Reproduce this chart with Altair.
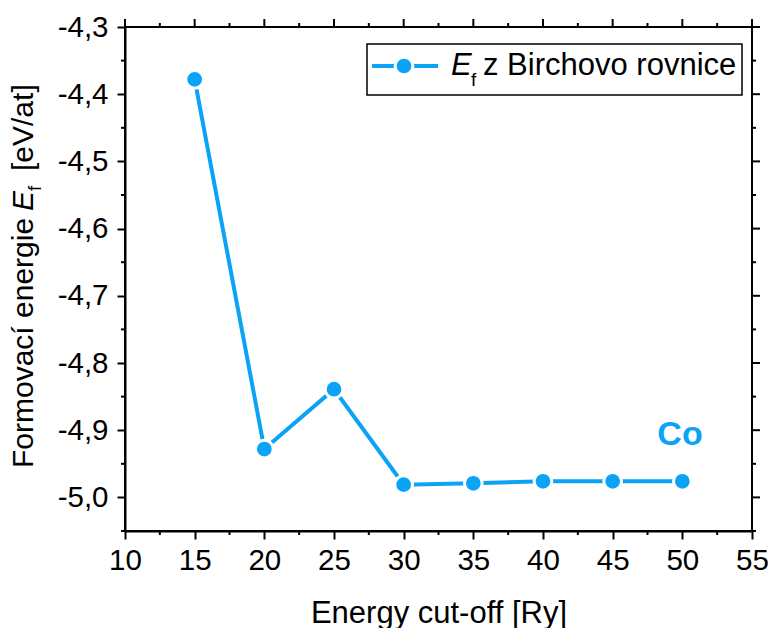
import altair as alt
import pandas as pd

# ---- data ----
cutoff = [15, 20, 25, 30, 35, 40, 45, 50]
energy = [-4.378, -4.928, -4.839, -4.981, -4.979, -4.976, -4.976, -4.976]

x_major = [10, 15, 20, 25, 30, 35, 40, 45, 50, 55]
x_minor = [12.5, 17.5, 22.5, 27.5, 32.5, 37.5, 42.5, 47.5, 52.5]
y_major = [-5.0, -4.9, -4.8, -4.7, -4.6, -4.5, -4.4, -4.3]
y_minor = [-5.05, -4.95, -4.85, -4.75, -4.65, -4.55, -4.45, -4.35]

COLOR = "#0AA3F5"
FONT = "Liberation Sans"
W, H = 627, 504
MAJ, MIN = 8, 4

df = pd.DataFrame({"x": cutoff, "y": energy})
one = pd.DataFrame({"a": [0]})

xscale = alt.Scale(domain=[10, 55], nice=False, zero=False)
yscale = alt.Scale(domain=[-5.05, -4.3], nice=False, zero=False)

xaxis = alt.Axis(values=x_major, tickSize=MAJ, tickWidth=2, tickColor="black",
                 domainWidth=2, domainColor="black", grid=False,
                 labelFontSize=29.5, labelFont=FONT, labelColor="black", labelPadding=7,
                 title="Energy cut-off [Ry]", titleFontSize=31, titleFont=FONT,
                 titleFontWeight="normal", titleColor="black",
                 titleY=91, titleBaseline="alphabetic", labelFlush=False)
yaxis = alt.Axis(values=y_major, tickSize=MAJ, tickWidth=2, tickColor="black",
                 domainWidth=2, domainColor="black", grid=False,
                 labelFontSize=29.5, labelFont=FONT, labelColor="black", labelPadding=9,
                 labelExpr="(datum.value < 0 ? '-' : '') + replace(format(abs(datum.value), '.1f'), '.', ',')",
                 title=None, labelFlush=False)

X = alt.X("x:Q", scale=xscale, axis=xaxis)
Y = alt.Y("y:Q", scale=yscale, axis=yaxis)

base = alt.Chart(df)
line = base.mark_line(color=COLOR, strokeWidth=4).encode(x=X, y=Y)
pts = base.mark_point(filled=True, fill=COLOR, stroke="white", strokeWidth=3,
                      size=314, opacity=1, shape="circle").encode(x=X, y=Y)

def xticks(vals, y0, y1):
    return alt.Chart(pd.DataFrame({"x": vals})).mark_rule(color="black", strokeWidth=2).encode(
        x=X, y=alt.value(y0), y2=alt.value(y1))

def yticks(vals, x0, x1):
    return alt.Chart(pd.DataFrame({"y": vals})).mark_rule(color="black", strokeWidth=2).encode(
        y=Y, x=alt.value(x0), x2=alt.value(x1))

ticks = [
    xticks(x_minor, H, H + MIN),
    xticks(x_major, 0, -MAJ),
    xticks(x_minor, 0, -MIN),
    yticks(y_minor, 0, -MIN),
    yticks(y_major, W, W + MAJ),
    yticks(y_minor, W, W + MIN),
]

# ---- y title (with italic E and subscript f) ----
ytx = -92
ytitle = [
    alt.Chart(one).mark_text(text="Formovací energie", angle=270, align="left", baseline="alphabetic",
                             fontSize=30, font=FONT, color="black").encode(x=alt.value(ytx), y=alt.value(441)),
    alt.Chart(one).mark_text(text="E", angle=270, align="left", baseline="alphabetic", fontStyle="italic",
                             fontSize=30, font=FONT, color="black").encode(x=alt.value(ytx), y=alt.value(184)),
    alt.Chart(one).mark_text(text="f", angle=270, align="left", baseline="alphabetic",
                             fontSize=19, font=FONT, color="black").encode(x=alt.value(ytx + 8), y=alt.value(164)),
    alt.Chart(one).mark_text(text="[eV/at]", angle=270, align="left", baseline="alphabetic",
                             fontSize=30, font=FONT, color="black").encode(x=alt.value(ytx), y=alt.value(144)),
]

# ---- legend ----
legend = [
    alt.Chart(one).mark_rect(fill="white", stroke="black", strokeWidth=1.5).encode(
        x=alt.value(242), x2=alt.value(617), y=alt.value(17), y2=alt.value(68)),
    alt.Chart(one).mark_rule(color=COLOR, strokeWidth=4).encode(
        x=alt.value(247), x2=alt.value(313), y=alt.value(39)),
    alt.Chart(one).mark_point(filled=True, fill=COLOR, stroke="white", strokeWidth=3,
                              size=314, opacity=1, shape="circle").encode(
        x=alt.value(279), y=alt.value(39)),
    alt.Chart(one).mark_text(text="E", align="left", baseline="alphabetic", fontStyle="italic",
                             fontSize=31, font=FONT, color="black").encode(x=alt.value(326), y=alt.value(48)),
    alt.Chart(one).mark_text(text="f", align="left", baseline="alphabetic",
                             fontSize=19, font=FONT, color="black").encode(x=alt.value(346), y=alt.value(59)),
    alt.Chart(one).mark_text(text="z Birchovo rovnice", align="left", baseline="alphabetic",
                             fontSize=31, font=FONT, color="black").encode(x=alt.value(358), y=alt.value(48)),
]

co = alt.Chart(one).mark_text(text="Co", align="center", baseline="alphabetic", fontWeight="bold",
                              fontSize=34, font=FONT, color=COLOR).encode(x=alt.value(555), y=alt.value(418))

chart = alt.layer(line, pts, *ticks, *ytitle, *legend, co).properties(
    width=W, height=H,
    padding={"left": 125, "top": 27, "right": 18, "bottom": 97},
    autosize="none",
    background="white",
).configure_view(stroke="black", strokeWidth=2)

chart.save("out.html", embed_options={"renderer": "svg", "actions": False})
